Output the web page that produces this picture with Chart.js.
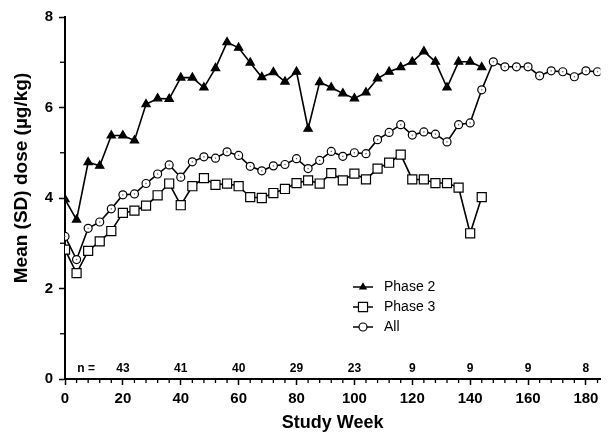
<!DOCTYPE html>
<html>
<head>
<meta charset="utf-8">
<script src="https://cdn.jsdelivr.net/npm/chart.js@4/dist/chart.umd.min.js"></script>
<style>
  body { margin: 0; background: #fff; }
</style>
</head>
<body>
<canvas id="chart" width="608" height="435"></canvas>
<script>
    // study weeks where doses were sampled
    const trialWeeks = [0, 4, 8, 12, 16, 20, 24, 28, 32, 36, 40, 44, 48, 52, 56, 60, 64, 68, 72, 76,
        80, 84, 88, 92, 96, 100, 104, 108, 112, 116, 120, 124, 128, 132, 136, 140, 144];
    const allWeeks = [0, 4, 8, 12, 16, 20, 24, 28, 32, 36, 40, 44, 48, 52, 56, 60, 64, 68, 72, 76,
        80, 84, 88, 92, 96, 100, 104, 108, 112, 116, 120, 124, 128, 132, 136, 140, 144,
        148, 152, 156, 160, 164, 168, 172, 176, 180, 184];

    const phase2Dose = [3.97, 3.52, 4.79, 4.71, 5.38, 5.38, 5.27, 6.07, 6.20, 6.19, 6.66, 6.66, 6.44, 6.87,
        7.44, 7.32, 6.99, 6.67, 6.78, 6.57, 6.79, 5.53, 6.56, 6.44, 6.31, 6.20, 6.33, 6.64, 6.79, 6.89,
        7.01, 7.24, 7.01, 6.44, 7.01, 7.01, 6.89];
    const phase3Dose = [2.86, 2.34, 2.83, 3.04, 3.27, 3.67, 3.72, 3.83, 4.06, 4.32, 3.84, 4.26, 4.44, 4.29,
        4.32, 4.26, 4.02, 4.00, 4.11, 4.20, 4.33, 4.39, 4.32, 4.55, 4.39, 4.54, 4.41, 4.65, 4.78, 4.96,
        4.41, 4.41, 4.33, 4.33, 4.23, 3.22, 4.02];
    const allDose = [3.15, 2.64, 3.33, 3.47, 3.76, 4.07, 4.09, 4.32, 4.53, 4.73, 4.46, 4.80, 4.91, 4.88,
        5.02, 4.94, 4.70, 4.60, 4.71, 4.74, 4.87, 4.65, 4.83, 5.03, 4.92, 5.00, 4.98, 5.29, 5.45, 5.62,
        5.39, 5.46, 5.41, 5.24, 5.62, 5.66, 6.39, 7.01, 6.90, 6.90, 6.90, 6.70, 6.81, 6.79, 6.68, 6.81, 6.79];

    // patient counts printed above the x axis
    const nWeeks = [20, 40, 60, 80, 100, 120, 140, 160, 180];
    const nCounts = [43, 41, 40, 29, 23, 9, 9, 9, 8];

    const yTitle = 'Mean (SD) dose (µg/kg)';

    const FONT = '"Liberation Sans", Arial, sans-serif';

    function toPoints(xs, ys) {
        return ys.map((v, i) => ({ x: xs[i], y: v }));
    }

    function drawMarker(ctx, style, r, x, y) {
        ctx.beginPath();
        if (style === 'triangle') {
            ctx.moveTo(x, y - r);
            ctx.lineTo(x + r * 0.866, y + r * 0.5);
            ctx.lineTo(x - r * 0.866, y + r * 0.5);
            ctx.closePath();
            ctx.fillStyle = '#000';
            ctx.fill();
        } else if (style === 'rect') {
            const s = r * Math.SQRT1_2;
            ctx.rect(x - s, y - s, 2 * s, 2 * s);
            ctx.fillStyle = '#fff';
            ctx.fill();
            ctx.stroke();
        } else {
            ctx.arc(x, y, r, 0, Math.PI * 2);
            ctx.fillStyle = '#fff';
            ctx.fill();
            ctx.stroke();
        }
    }

    const extras = {
        id: 'extras',
        afterDraw(chart) {
            const { ctx, scales: { x, y } } = chart;
            ctx.save();
            ctx.strokeStyle = '#000';
            ctx.lineWidth = 1.3;

            // minor ticks
            for (let w = 4; w <= x.max; w += 4) {
                if (w % 20 === 0) continue;
                const px = x.getPixelForValue(w);
                ctx.beginPath();
                ctx.moveTo(px, y.bottom);
                ctx.lineTo(px, y.bottom + 4);
                ctx.stroke();
            }
            for (let v = 1; v < 8; v += 2) {
                const py = y.getPixelForValue(v);
                ctx.beginPath();
                ctx.moveTo(x.left, py);
                ctx.lineTo(x.left - 5, py);
                ctx.stroke();
            }

            // little dots inside the "All" circles
            const allMeta = chart.getDatasetMeta(2);
            ctx.fillStyle = '#555';
            allMeta.data.forEach(pt => {
                ctx.fillRect(pt.x - 0.6, pt.y - 0.6, 1.2, 1.2);
            });

            // n = row
            ctx.fillStyle = '#000';
            ctx.font = 'bold 12px ' + FONT;
            ctx.textAlign = 'center';
            ctx.textBaseline = 'middle';
            const ny = y.getPixelForValue(0.22);
            ctx.fillText('n =', x.getPixelForValue(7.3), ny);
            nWeeks.forEach((w, i) => ctx.fillText(String(nCounts[i]), x.getPixelForValue(w), ny));

            // y axis title, sits a bit above centre like the original
            ctx.save();
            ctx.translate(22, 178);
            ctx.rotate(-Math.PI / 2);
            ctx.font = 'bold 19px ' + FONT;
            ctx.fillText(yTitle, 0, 0);
            ctx.restore();

            // legend
            ctx.font = '14px ' + FONT;
            ctx.textAlign = 'left';
            chart.data.datasets.forEach((ds, i) => {
                const ly = 287 + i * 20;
                ctx.lineWidth = 1.5;
                ctx.beginPath();
                ctx.moveTo(353, ly);
                ctx.lineTo(373, ly);
                ctx.stroke();
                ctx.lineWidth = 1.2;
                drawMarker(ctx, ds.pointStyle, ds.pointRadius, 363, ly);
                ctx.fillStyle = '#000';
                ctx.fillText(ds.label, 384, ly);
            });
            ctx.restore();
        }
    };

    function lineSet(label, xs, ys, style, radius, fill) {
        return {
            label: label,
            data: toPoints(xs, ys),
            borderColor: '#000',
            borderWidth: 1.6,
            pointStyle: style,
            pointRadius: radius,
            pointBackgroundColor: fill,
            pointBorderColor: '#000',
            pointBorderWidth: 1.2,
            tension: 0,
            fill: false
        };
    }

    new Chart(document.getElementById('chart').getContext('2d'), {
        type: 'line',
        data: {
            datasets: [
                lineSet('Phase 2', trialWeeks, phase2Dose, 'triangle', 4.8, '#000'),
                lineSet('Phase 3', trialWeeks, phase3Dose, 'rect', 6.4, '#fff'),
                lineSet('All', allWeeks, allDose, 'circle', 4, '#fff')
            ]
        },
        options: {
            responsive: false,
            animation: false,
            devicePixelRatio: 1,
            layout: { padding: { top: 17, right: 0, left: 0, bottom: 0 } },
            plugins: {
                legend: { display: false },
                tooltip: { enabled: false }
            },
            scales: {
                x: {
                    type: 'linear',
                    min: 0,
                    max: 185,
                    ticks: {
                        stepSize: 20,
                        includeBounds: false,
                        color: '#000',
                        padding: 5,
                        maxRotation: 0,
                        font: { family: FONT, size: 15, weight: 'bold' }
                    },
                    grid: { drawOnChartArea: false, drawTicks: true, tickLength: 6, tickColor: '#000', tickWidth: 1.5 },
                    border: { display: true, color: '#000', width: 2 },
                    title: {
                        display: true,
                        text: 'Study Week',
                        color: '#000',
                        font: { family: FONT, size: 18, weight: 'bold' },
                        padding: { top: 0, bottom: 1 }
                    },
                    afterFit(scale) { scale.height = 56; }
                },
                y: {
                    min: 0,
                    max: 8,
                    ticks: {
                        stepSize: 2,
                        color: '#000',
                        padding: 6,
                        font: { family: FONT, size: 15, weight: 'bold' }
                    },
                    grid: { drawOnChartArea: false, drawTicks: true, tickLength: 6, tickColor: '#000', tickWidth: 1.5 },
                    border: { display: true, color: '#000', width: 2 },
                    afterFit(scale) { scale.width = 65; }
                }
            }
        },
        plugins: [extras]
    });
</script>
</body>
</html>
